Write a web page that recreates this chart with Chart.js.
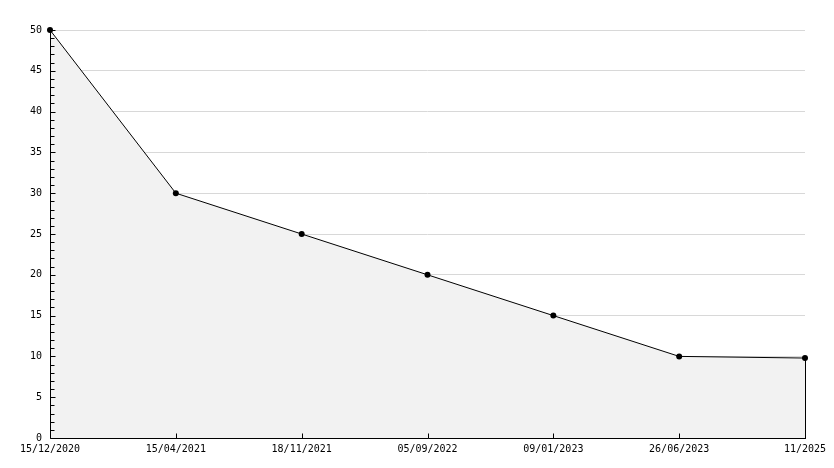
<!DOCTYPE html>
<html>
<head>
<meta charset="utf-8">
<script src="https://cdn.jsdelivr.net/npm/chart.js@4"></script>
<style>
html,body{margin:0;padding:0;background:#fff;}
canvas{display:block;}
</style>
</head>
<body>
<canvas id="c" width="834" height="468"></canvas>
<script>
const categories = ["15/12/2020","15/04/2021","18/11/2021","05/09/2022","09/01/2023","26/06/2023","11/2025"];
const values = [50, 30, 25, 20, 15, 10, 9.8];
const yMin = 0, yMax = 50, yStep = 5, yMinorStep = 1;

const axisPlugin = {
  id: 'axisPlugin',
  afterDatasetsDraw(chart) {
    const ctx = chart.ctx;
    const ca = chart.chartArea;
    const xs = chart.scales.x, ys = chart.scales.y;
    ctx.save();
    ctx.strokeStyle = '#000';
    ctx.lineWidth = 1;
    const lastI = values.length - 1;
    const lx = Math.round(xs.getPixelForValue(lastI)) + 0.5;
    ctx.beginPath();
    ctx.moveTo(lx, ys.getPixelForValue(values[lastI]));
    ctx.lineTo(lx, ys.getPixelForValue(0));
    ctx.stroke();
    const ax = Math.round(ca.left) + 0.5;
    const ay = Math.round(ys.getPixelForValue(0)) + 0.5;
    ctx.beginPath();
    ctx.moveTo(ax, ys.getPixelForValue(yMax));
    ctx.lineTo(ax, ay);
    ctx.lineTo(Math.round(ca.right) + 1, ay);
    ctx.stroke();
    for (let v = yMin; v <= yMax; v += yMinorStep) {
      const py = Math.round(ys.getPixelForValue(v)) + 0.5;
      const len = (v % yStep === 0) ? 5 : 4;
      ctx.beginPath();
      ctx.moveTo(ax, py);
      ctx.lineTo(ax + len, py);
      ctx.stroke();
    }
    for (let i = 1; i < categories.length - 1; i++) {
      const px = Math.round(xs.getPixelForValue(i)) + 0.5;
      ctx.beginPath();
      ctx.moveTo(px, ay);
      ctx.lineTo(px, ay - 5);
      ctx.stroke();
    }
    // redraw points on top
    const meta = chart.getDatasetMeta(0);
    ctx.fillStyle = '#000';
    meta.data.forEach(p => {
      ctx.beginPath();
      ctx.arc(p.x, p.y, 3, 0, Math.PI * 2);
      ctx.fill();
    });
    ctx.restore();
  }
};

new Chart(document.getElementById('c'), {
  type: 'line',
  data: {
    labels: categories,
    datasets: [{
      data: values,
      borderColor: '#000',
      borderWidth: 1,
      backgroundColor: '#f2f2f2',
      fill: 'origin',
      tension: 0,
      clip: false,
      pointRadius: 0,
      pointHoverRadius: 0
    }]
  },
  options: {
    responsive: false,
    animation: false,
    events: [],
    layout: { padding: { top: 30, right: 29, left: 0, bottom: 0 } },
    plugins: { legend: { display: false }, tooltip: { enabled: false } },
    scales: {
      x: {
        type: 'category',
        offset: false,
        grid: { display: false, drawTicks: false },
        border: { display: false },
        afterFit(s) { s.height = 30; },
        ticks: {
          color: '#000',
          padding: 5,
          maxRotation: 0,
          autoSkip: false,
          font: { family: 'DejaVu Sans Mono', size: 10 }
        }
      },
      y: {
        min: yMin, max: yMax,
        afterFit(s) { s.width = 50; },
        grid: { color: '#d8d8d8', drawTicks: false, lineWidth: 1 },
        border: { display: false },
        ticks: {
          stepSize: yStep,
          color: '#000',
          padding: 8,
          font: { family: 'DejaVu Sans Mono', size: 10 }
        }
      }
    }
  },
  plugins: [axisPlugin]
});
</script>
</body>
</html>
